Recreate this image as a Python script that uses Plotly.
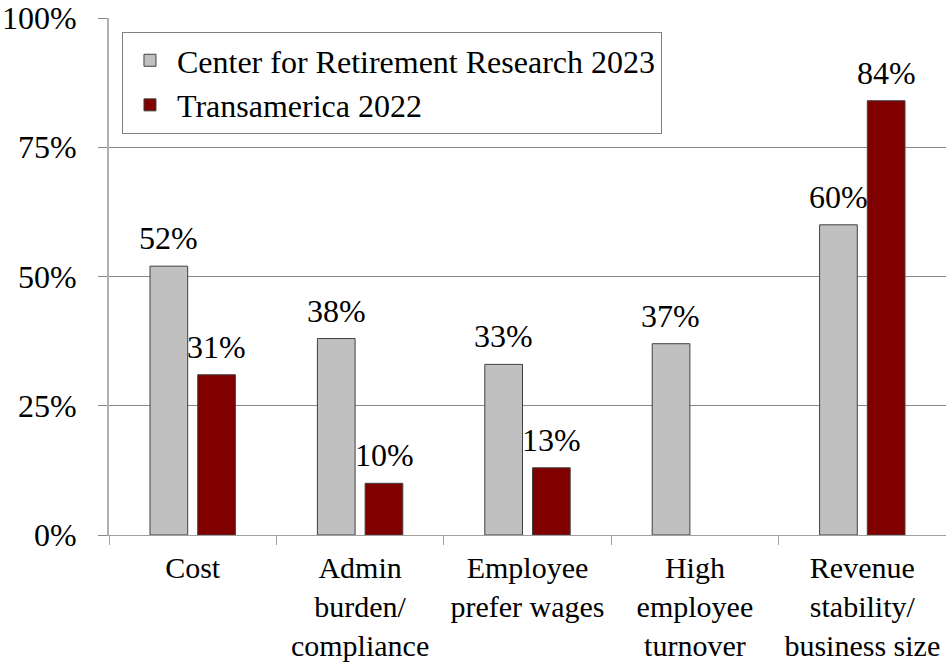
import plotly.graph_objects as go

categories = ["Cost", "Admin<br>burden/<br>compliance", "Employee<br>prefer wages",
              "High<br>employee<br>turnover", "Revenue<br>stability/<br>business size"]
crr_2023 = [52, 38, 33, 37, 60]
transamerica_2022 = [31, 10, 13, None, 84]

FONT = "Liberation Serif, Times New Roman, serif"
SIZE = 32

fig = go.Figure()
fig.add_trace(go.Bar(
    x=categories, y=crr_2023, name="Center for Retirement Research 2023",
    marker=dict(color="#C0C0C0", line=dict(color="#404040", width=1)),
))
fig.add_trace(go.Bar(
    x=categories, y=transamerica_2022, name="Transamerica 2022",
    marker=dict(color="#800000", line=dict(color="#404040", width=1)),
))

# value labels above the bars
for series, shift in ((crr_2023, -24), (transamerica_2022, 24)):
    for cat, v in zip(categories, series):
        if v is None:
            continue
        fig.add_annotation(x=cat, y=v, text=f"{v}%", showarrow=False,
                           xshift=shift, yshift=8, yanchor="bottom",
                           font=dict(size=SIZE, family=FONT, color="black"))

fig.update_layout(
    width=946, height=667,
    margin=dict(l=109, r=0, t=18, b=132, autoexpand=False),
    paper_bgcolor="white", plot_bgcolor="white",
    font=dict(family=FONT, size=SIZE, color="black"),
    barmode="group", bargap=0.43, bargroupgap=0.21,
    legend=dict(x=0.0155, y=0.973, xanchor="left", yanchor="top",
                bgcolor="white", bordercolor="#808080", borderwidth=1,
                itemwidth=44, font=dict(size=SIZE, family=FONT)),
)
fig.update_yaxes(range=[0, 100], tickvals=[0, 25, 50, 75, 100],
                 ticktext=["0%", "25%", "50%", "75%", "100%"],
                 showgrid=True, gridcolor="#888888", gridwidth=1,
                 showline=True, linecolor="#B0B0B0", linewidth=2,
                 ticks="outside", ticklen=9, tickcolor="#888888",
                 ticklabelstandoff=15, zeroline=False, automargin=False)
fig.update_xaxes(showline=True, linecolor="#A0A0A0", linewidth=1,
                 ticks="outside", ticklen=9, tickcolor="#A0A0A0",
                 tickson="boundaries", tickangle=0, ticklabelstandoff=6,
                 tickfont=dict(size=30), automargin=False)

fig.write_html("out.html", config={"displayModeBar": False},
               post_script="document.body.style.margin='0';")
